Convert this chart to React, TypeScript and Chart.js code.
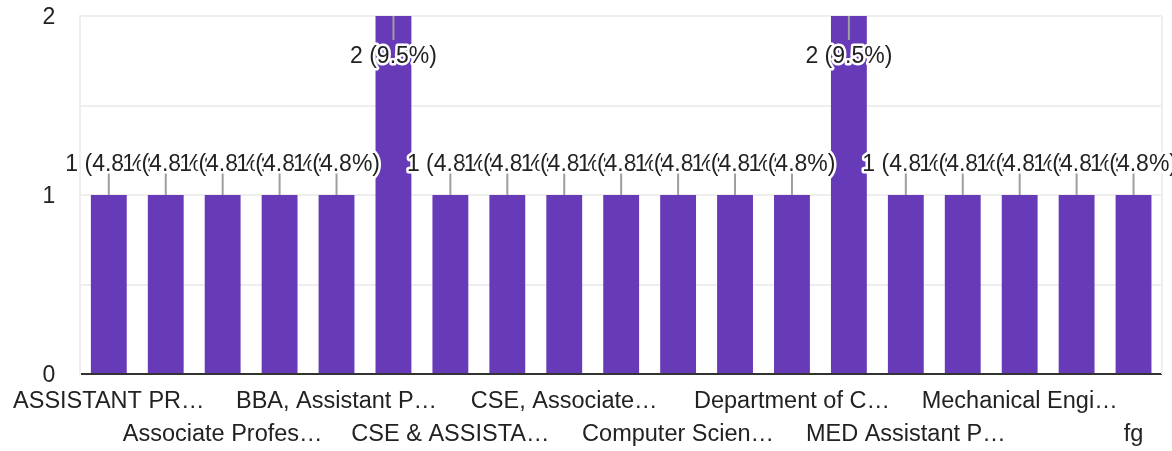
import React, { useEffect, useRef } from "react";
import { Chart, registerables } from "chart.js";

Chart.register(...registerables);

const categories: string[] = [
  "ASSISTANT PR…",
  "Assistant Professor",
  "Associate Profes…",
  "Assistant Professor, EEE",
  "BBA, Assistant P…",
  "CSE",
  "CSE & ASSISTA…",
  "CSE, Assistant Professor",
  "CSE, Associate…",
  "Civil Engineering",
  "Computer Scien…",
  "Computer Science, Lecturer",
  "Department of C…",
  "EEE",
  "MED Assistant P…",
  "Mathematics",
  "Mechanical Engi…",
  "Physics",
  "fg",
];

const counts: number[] = [1, 1, 1, 1, 1, 2, 1, 1, 1, 1, 1, 1, 1, 2, 1, 1, 1, 1, 1];

const yTickLabels: number[] = [0, 1, 2];

const FONT = "'Liberation Sans', Arial, sans-serif";

export default function App() {
  const ref = useRef<HTMLCanvasElement | null>(null);

  useEffect(() => {
    if (!ref.current) return;
    const total = counts.reduce((a, b) => a + b, 0);

    const frame = {
      id: "frame",
      beforeDatasetsDraw(chart: any) {
        const { ctx, chartArea } = chart;
        ctx.save();
        ctx.strokeStyle = "#eeeeee";
        ctx.lineWidth = 2;
        ctx.beginPath();
        ctx.moveTo(chartArea.right, chartArea.top);
        ctx.lineTo(chartArea.right, chartArea.bottom);
        ctx.stroke();
        ctx.restore();
      },
    };

    const labelsPlugin = {
      id: "barLabels",
      afterDatasetsDraw(chart: any) {
        const { ctx, chartArea } = chart;
        const meta = chart.getDatasetMeta(0);
        const items = meta.data.map((bar: any, i: number) => {
          const v = counts[i];
          const pct = ((v / total) * 100).toFixed(1);
          const top = bar.y;
          const inside = top - 50 < chartArea.top;
          return {
            x: bar.x,
            top,
            lineEnd: inside ? top + 24 : top - 23,
            ty: inside ? top + 41 : top - 30,
            text: `${v} (${pct}%)`,
          };
        });
        ctx.save();
        ctx.strokeStyle = "#9e9e9e";
        ctx.lineWidth = 2;
        items.forEach((it: any) => {
          ctx.beginPath();
          ctx.moveTo(it.x, it.top);
          ctx.lineTo(it.x, it.lineEnd);
          ctx.stroke();
        });
        ctx.font = `23px ${FONT}`;
        ctx.textAlign = "center";
        ctx.textBaseline = "middle";
        ctx.lineJoin = "round";
        items.forEach((it: any) => {
          ctx.strokeStyle = "#ffffff";
          ctx.lineWidth = 5;
          ctx.strokeText(it.text, it.x, it.ty);
          ctx.fillStyle = "#222222";
          ctx.fillText(it.text, it.x, it.ty);
        });
        ctx.restore();
      },
    };

    const chart = new Chart(ref.current, {
      type: "bar",
      data: {
        labels: categories,
        datasets: [
          {
            data: counts,
            backgroundColor: "#673ab7",
            barPercentage: 0.63,
            categoryPercentage: 1,
          },
        ],
      },
      options: {
        animation: false,
        responsive: true,
        maintainAspectRatio: false,
        layout: { padding: { left: 0, right: 10, top: 16, bottom: 0 } },
        plugins: { legend: { display: false }, tooltip: { enabled: false } },
        scales: {
          x: {
            afterFit: (s: any) => {
              s.height = 77;
            },
            grid: { display: false, drawTicks: false },
            border: { display: false },
            ticks: {
              autoSkip: false,
              maxRotation: 0,
              minRotation: 0,
              padding: 11,
              color: "#222222",
              font: { family: FONT, size: 23.5, lineHeight: 1.4 },
              callback: (_v: any, i: number) =>
                i % 4 === 0 ? categories[i] : i % 4 === 2 ? ["", categories[i]] : "",
            },
          },
          y: {
            min: 0,
            max: 2,
            afterFit: (s: any) => {
              s.width = 78;
              s.paddingTop = 0;
              s.paddingBottom = 0;
            },
            border: { display: true, color: "#eeeeee", width: 2 },
            grid: {
              color: (c: any) => (c.tick && c.tick.value === 0 ? "#333333" : "#eeeeee"),
              lineWidth: 2,
              drawTicks: false,
            },
            ticks: {
              stepSize: 0.5,
              padding: 25,
              labelOffset: 2,
              color: "#222222",
              font: { family: FONT, size: 23 },
              callback: (v: any) => (yTickLabels.includes(Number(v)) ? String(v) : ""),
            },
          },
        },
      },
      plugins: [frame, labelsPlugin],
    });
    return () => chart.destroy();
  }, []);

  return (
    <div style={{ position: "fixed", left: 0, top: 0, width: 1172, height: 451, background: "#fff" }}>
      <canvas ref={ref} />
    </div>
  );
}
